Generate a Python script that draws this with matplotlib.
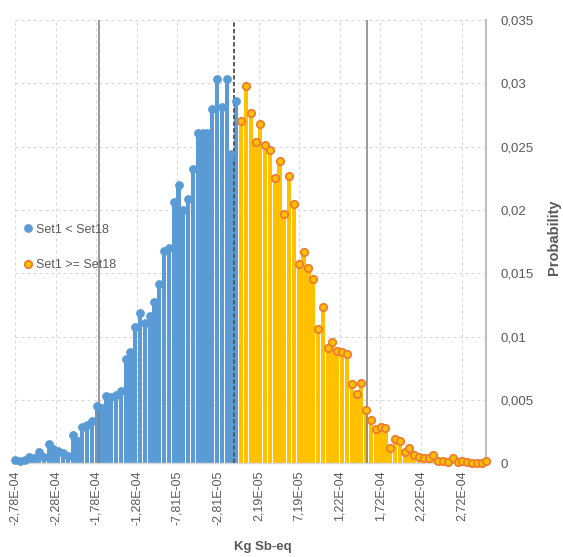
import numpy as np
import matplotlib.pyplot as plt
from matplotlib.lines import Line2D
from matplotlib.ticker import FuncFormatter

# ---------------------------------------------------------------
# Data
# ---------------------------------------------------------------
bin_start = -2.781e-4      # centre of the first bin
bin_width = 5.924e-6

# probability per bin, Set1 < Set18 (negative differences)
prob_below = [
    0.00029, 0.00021, 0.00026, 0.00052, 0.00040, 0.00092, 0.00047, 0.00150,
    0.00113, 0.00100, 0.00079, 0.00058, 0.00224, 0.00179, 0.00284, 0.00305,
    0.00332, 0.00453, 0.00436, 0.00532, 0.00520, 0.00542, 0.00572, 0.00825,
    0.00882, 0.01075, 0.01183, 0.01108, 0.01164, 0.01275, 0.01415, 0.01673,
    0.01700, 0.02060, 0.02200, 0.02000, 0.02090, 0.02320, 0.02610, 0.02610,
    0.02610, 0.02800, 0.03035, 0.02810, 0.03035, 0.02440, 0.02860,
]
# probability per bin, Set1 >= Set18
prob_above = [
    0.02700, 0.02980, 0.02765, 0.02535, 0.02680, 0.02510, 0.02470, 0.02250,
    0.02390, 0.01970, 0.02270, 0.02050, 0.01570, 0.01670, 0.01540, 0.01453,
    0.01061, 0.01232, 0.00911, 0.00960, 0.00890, 0.00880, 0.00860, 0.00629,
    0.00550, 0.00632, 0.00420, 0.00340, 0.00269, 0.00289, 0.00281, 0.00118,
    0.00192, 0.00179, 0.00089, 0.00118, 0.00066, 0.00047, 0.00039, 0.00039,
    0.00068, 0.00021, 0.00021, 0.00008, 0.00039, 0.00008, 0.00021, 0.00008,
    0.00003, 0.00003, 0.00003, 0.00018,
]

mean_value = -8.8e-6
pct_low = -1.746e-4
pct_high = 1.549e-4

tick_start = -2.781e-4
tick_step = 5e-5
n_ticks = 12

labels = ['Set1 < Set18', 'Set1 >= Set18']

# ---------------------------------------------------------------
# Style
# ---------------------------------------------------------------
plt.rcParams['font.family'] = ['Liberation Sans', 'DejaVu Sans']
blue = '#5B9BD5'
gold = '#FFC000'
orange = '#ED7D31'
txt = '#595959'

fig = plt.figure(figsize=(5.63, 5.57), dpi=100)
W, H = 563, 557
ax = fig.add_axes([15 / W, 1 - 463.3 / H, (486.4 - 15) / W, (463.3 - 20) / H])

x_below = bin_start + np.arange(len(prob_below)) * bin_width
x_above = bin_start + (len(prob_below) + np.arange(len(prob_above))) * bin_width

ax.bar(x_below, prob_below, width=bin_width * 0.88, color=blue, zorder=2)
ax.bar(x_above, prob_above, width=bin_width * 0.88, color=gold, zorder=2)

ax.axvline(pct_low, color='#7F7F7F', lw=1.1, zorder=3)
ax.axvline(pct_high, color='#7F7F7F', lw=1.1, zorder=3)
ax.axvline(mean_value, color=txt, lw=1.4, linestyle=(0, (2.2, 1.2)), zorder=3)

ax.plot(x_below, prob_below, 'o', ls='none', ms=5.3, color=blue, zorder=4, clip_on=False)
ax.plot(x_above, prob_above, 'o', ls='none', ms=5.3, mfc=gold, mec=orange,
        mew=1.3, zorder=4, clip_on=False)

# axes
ax.set_xlim(bin_start, x_above[-1])
ax.set_ylim(0, 0.035)
ax.set_xticks(tick_start + np.arange(n_ticks) * tick_step)
ax.xaxis.set_major_formatter(FuncFormatter(lambda v, p: f"{v:.2E}".replace('.', ',')))
ax.set_yticks(np.arange(0, 0.0351, 0.005))
ax.yaxis.set_major_formatter(FuncFormatter(lambda v, p: f"{round(v, 4):g}".replace('.', ',')))
ax.yaxis.tick_right()
ax.tick_params(axis='x', length=0, pad=5, labelsize=9, labelcolor=txt, labelrotation=90)
ax.tick_params(axis='y', length=0, pad=10, labelsize=9.5, labelcolor=txt)

ax.grid(True, color='#D9D9D9', lw=0.8, linestyle=(0, (2.7, 2.7)), zorder=0)
ax.set_axisbelow(True)
for s in ['top', 'left']:
    ax.spines[s].set_visible(False)
ax.spines['right'].set_color('#BFBFBF')
ax.spines['right'].set_linewidth(1.5)
ax.spines['bottom'].set_color('#D9D9D9')
ax.spines['bottom'].set_linewidth(1)

fig.text(263 / W, 1 - 547 / H, 'Kg Sb-eq', ha='center', va='center',
         fontsize=9.5, fontweight='bold', color=txt)
fig.text(554 / W, 1 - 237 / H, 'Probability', ha='center', va='center',
         rotation=90, fontsize=10.5, fontweight='bold', color=txt)

handles = [
    Line2D([], [], marker='o', ls='none', ms=5.3, color=blue),
    Line2D([], [], marker='o', ls='none', ms=5.3, mfc=gold, mec=orange, mew=1.3),
]
leg = ax.legend(handles, labels, loc='center left', bbox_to_anchor=(0.0, 0.487),
                frameon=False, fontsize=9, handlelength=0.6, handletextpad=0.3,
                labelspacing=1.9, borderpad=0, borderaxespad=0.75)
for t in leg.get_texts():
    t.set_color(txt)

fig.savefig('out.png', dpi=100)
